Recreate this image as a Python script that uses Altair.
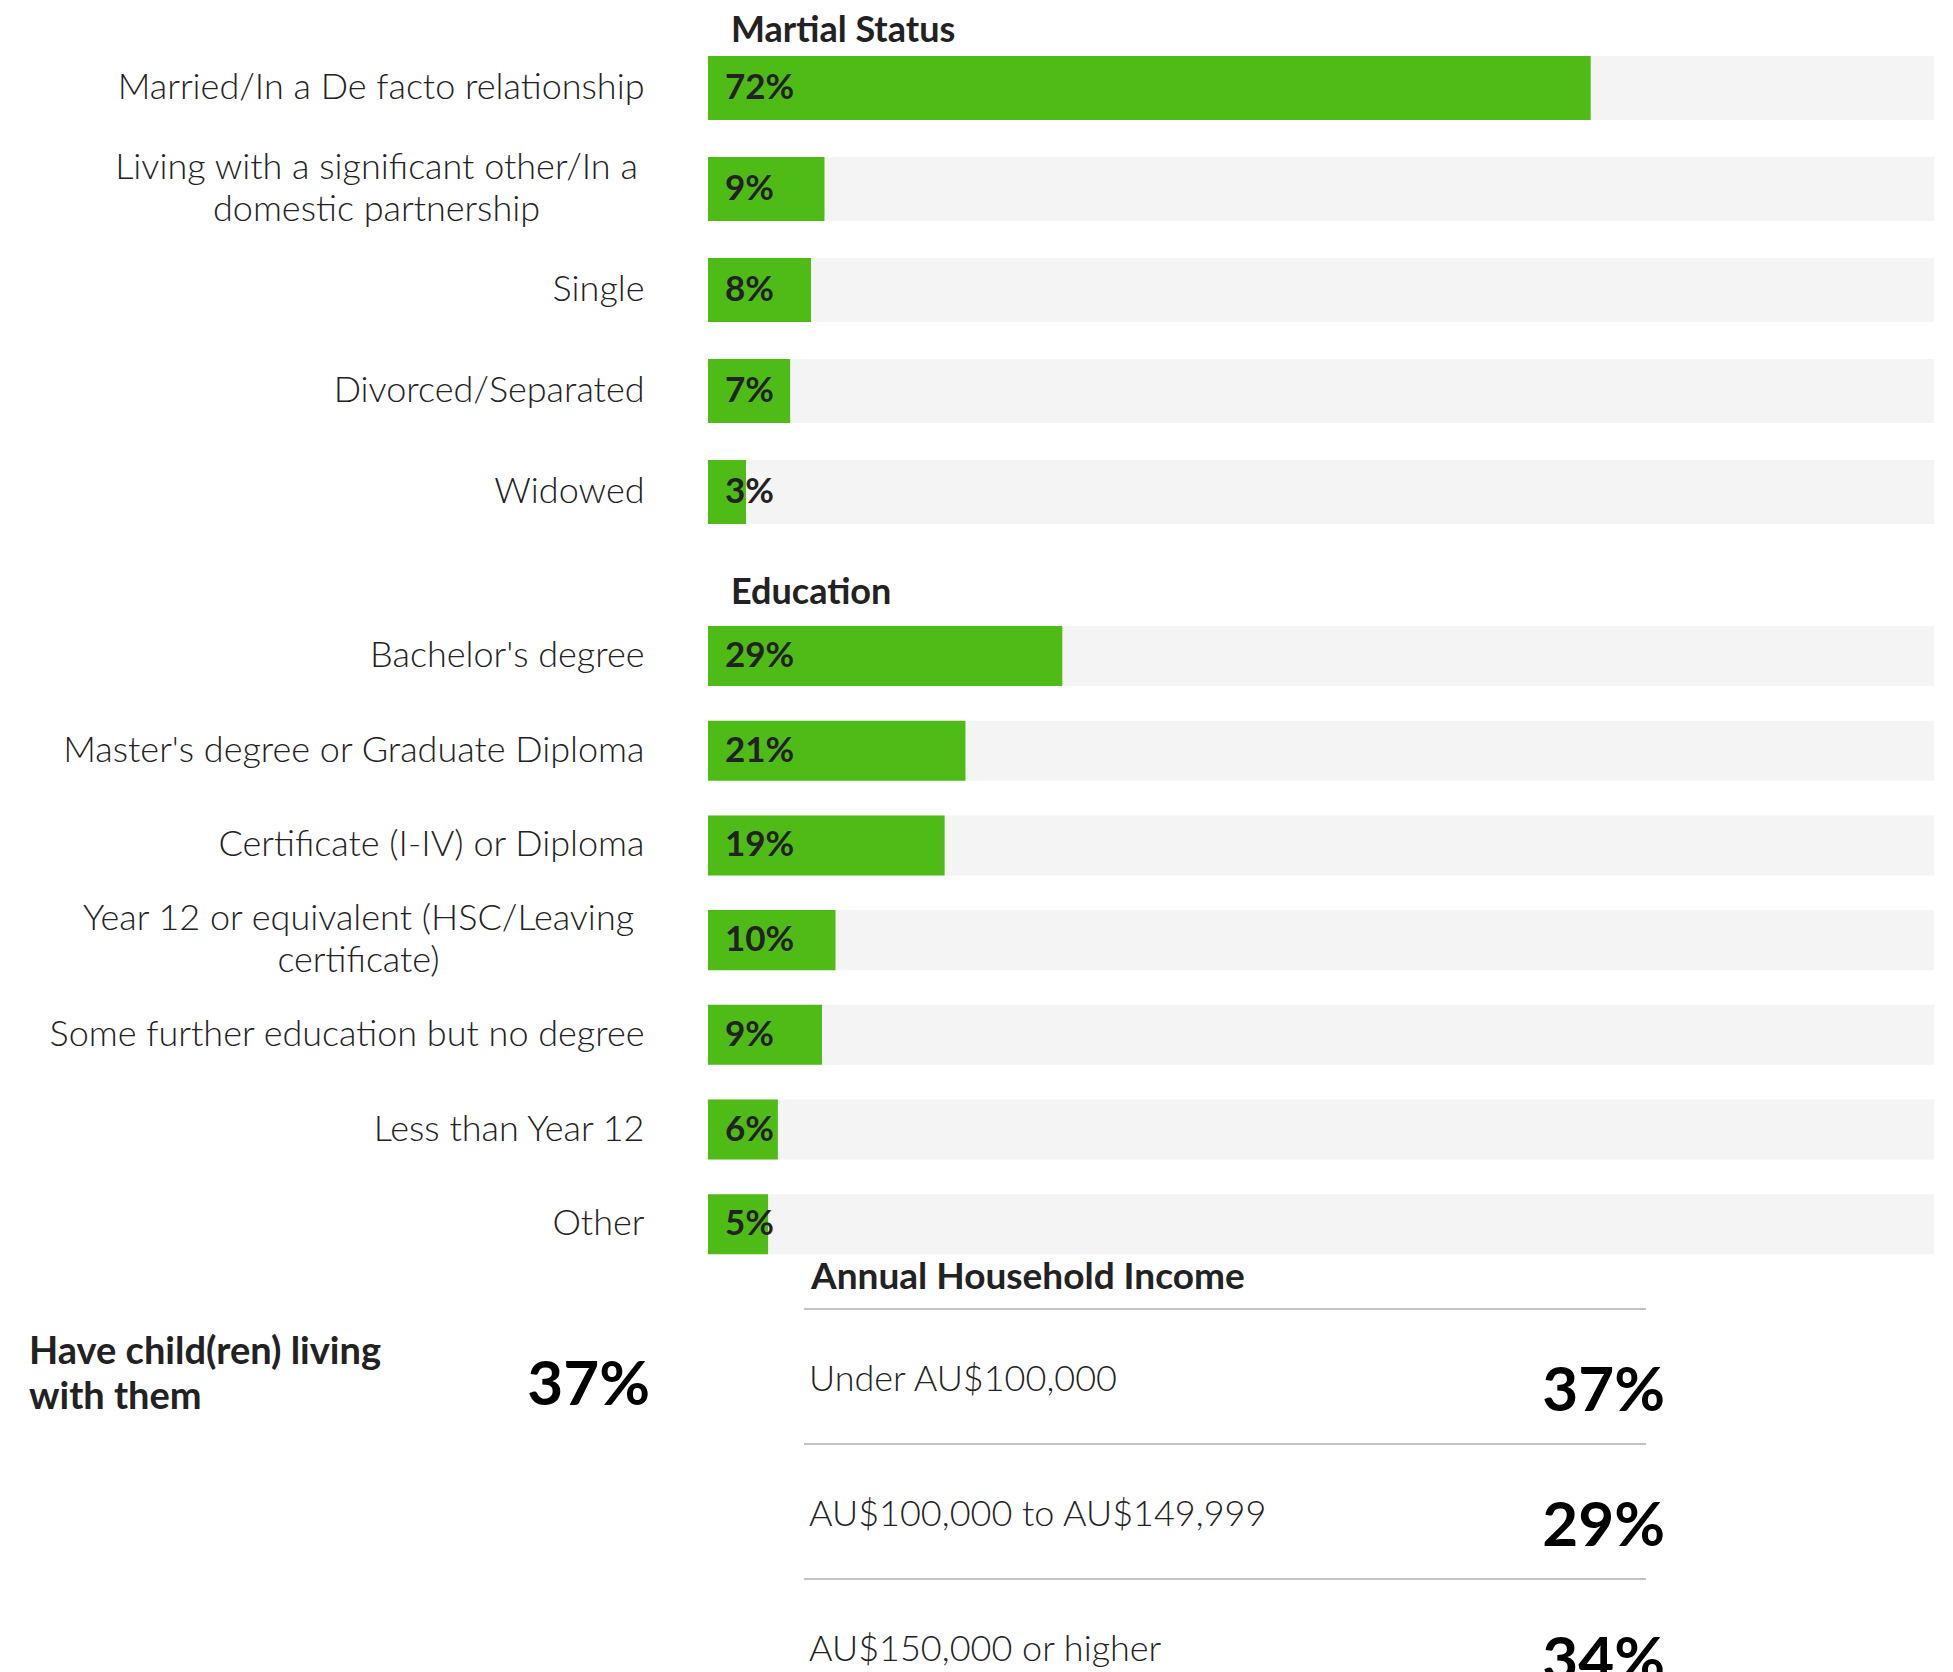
import altair as alt
import pandas as pd

# ---------------- data ----------------
marital_cats = [
    "Married/In a De facto relationship",
    "Living with a significant other/In a domestic partnership",
    "Single",
    "Divorced/Separated",
    "Widowed",
]
marital_vals = [72, 9.5, 8.4, 6.7, 3.1]
marital_labels = ["72%", "9%", "8%", "7%", "3%"]

edu_cats = [
    "Bachelor's degree",
    "Master's degree or Graduate Diploma",
    "Certificate (I-IV) or Diploma",
    "Year 12 or equivalent (HSC/Leaving certificate)",
    "Some further education but no degree",
    "Less than Year 12",
    "Other",
]
edu_vals = [28.9, 21, 19.3, 10.4, 9.3, 5.7, 4.9]
edu_labels = ["29%", "21%", "19%", "10%", "9%", "6%", "5%"]

income_cats = ["Under AU$100,000", "AU$100,000 to AU$149,999", "AU$150,000 or higher"]
income_labels = ["37%", "29%", "34%"]

child_label = ["Have child(ren) living", "with them"]
child_value_label = ["37%"]

wrapped = {
    "Living with a significant other/In a domestic partnership": (["Living with a significant other/In a", "domestic partnership"], 332),
    "Year 12 or equivalent (HSC/Leaving certificate)": (["Year 12 or equivalent (HSC/Leaving", "certificate)"], 350),
}

GREEN = "#4fbb17"
TRACK = "#f4f4f4"
TEXT = "#222222"
FONT = "Lato"
PLOT_W = 1226


def axis_for(cats):
    expr = "datum.label"
    pad_value = 64
    keys = [k for k in wrapped if k in cats]
    for k in keys:
        lines, _ = wrapped[k]
        arr = "[" + ",".join("'" + l + "'" for l in lines) + "]"
        expr = f"datum.label == '{k}' ? {arr} : ({expr})"
    kwargs = dict(
        title=None, domain=False, ticks=False,
        minExtent=694, maxExtent=694,
        labelFont=FONT, labelFontWeight=300, labelFontSize=36,
        labelColor=TEXT, labelLimit=700, labelLineHeight=42,
        labelExpr=expr, labelPadding=pad_value,
    )
    if keys:
        k = keys[0]
        test = f"datum.value == '{k}'"
        kwargs["labelAlign"] = {"condition": {"test": test, "value": "center"}, "value": "right"}
        kwargs["labelPadding"] = {"condition": {"test": test, "value": wrapped[k][1]}, "value": pad_value}
        kwargs["labelOffset"] = {"condition": {"test": test, "value": -21}, "value": 0}
    return alt.Axis(**kwargs)


def bar_panel(cats, vals, labels, title, step, title_offset):
    n = len(cats)
    pin = 0.366
    height = step * (n - pin)
    df = pd.DataFrame({"cat": cats, "val": vals, "full": [100] * n, "txt": labels})
    yscale = alt.Scale(domain=cats, paddingInner=pin, paddingOuter=0)
    y_axis = alt.Y("cat:N", sort=cats, scale=yscale, axis=axis_for(cats))
    y_plain = alt.Y("cat:N", sort=cats, scale=yscale)
    xscale = alt.Scale(domain=[0, 100], nice=False)
    base = alt.Chart(df)
    track = base.mark_bar(color=TRACK).encode(
        x=alt.X("full:Q", scale=xscale, axis=None), y=y_axis
    )
    bars = base.mark_bar(color=GREEN).encode(
        x=alt.X("val:Q", scale=xscale, axis=None), y=y_plain
    )
    txt = base.mark_text(
        align="left", baseline="middle", dx=17, font=FONT,
        fontWeight="bold", fontSize=35, color=TEXT,
    ).encode(x=alt.datum(0, scale=xscale), y=y_plain, text="txt:N")
    return alt.layer(track, bars, txt).properties(
        width=PLOT_W,
        height=height,
        title=alt.TitleParams(
            title, anchor="start", frame="group", dx=23, offset=title_offset,
            font=FONT, fontSize=36, fontWeight="bold", color=TEXT,
        ),
    )


marital = bar_panel(marital_cats, marital_vals, marital_labels, "Martial Status", 101, 6)
education = bar_panel(edu_cats, edu_vals, edu_labels, "Education", 94.7, 14)

# ---------------- bottom panel ----------------
inc_df = pd.DataFrame({"cat": income_cats, "txt": income_labels})
iscale = alt.Scale(domain=income_cats, paddingInner=0, paddingOuter=0)
ibase = alt.Chart(inc_df)
rules = ibase.mark_rule(color="#c4c4c4", strokeWidth=2).encode(
    x=alt.value(96), x2=alt.value(938),
    y=alt.Y("cat:N", sort=income_cats, scale=iscale, axis=None, bandPosition=0),
)
inc_labels = ibase.mark_text(
    align="left", baseline="middle", font=FONT, fontWeight=300,
    fontSize=36, color=TEXT, dy=3,
).encode(
    x=alt.value(101),
    y=alt.Y("cat:N", sort=income_cats, scale=iscale, axis=None, bandPosition=0.5),
    text="cat:N",
)
inc_vals = ibase.mark_text(
    align="right", baseline="middle", font=FONT, fontWeight="bold",
    fontSize=62, color="#000000", dy=15,
).encode(
    x=alt.value(957),
    y=alt.Y("cat:N", sort=income_cats, scale=iscale, axis=None, bandPosition=0.5),
    text="txt:N",
)
child_df = pd.DataFrame({"label": [child_label], "txt": child_value_label})
child_text = alt.Chart(child_df).mark_text(
    align="left", baseline="middle", font=FONT, fontWeight="bold",
    fontSize=38, color=TEXT, lineHeight=45,
).encode(x=alt.value(-679), y=alt.value(44), text="label")
child_num = alt.Chart(child_df).mark_text(
    align="right", baseline="middle", font=FONT, fontWeight="bold",
    fontSize=62, color="#000000",
).encode(x=alt.value(-58), y=alt.value(77), text="txt:N")

bottom = alt.layer(rules, inc_labels, inc_vals, child_text, child_num).properties(
    width=PLOT_W,
    height=405,
    title=alt.TitleParams(
        "Annual Household Income", anchor="start", frame="group", dx=103,
        offset=11, font=FONT, fontSize=37, fontWeight="bold", color=TEXT,
    ),
)

top = alt.vconcat(marital, education, spacing=50)
chart = (
    alt.vconcat(top, bottom, spacing=4)
    .properties(
        padding={"top": 5, "left": 6, "right": 5, "bottom": 5},
        background="white",
    )
    .configure_view(strokeWidth=0)
)

chart.save("out.html", embed_options={"renderer": "svg", "actions": False})
